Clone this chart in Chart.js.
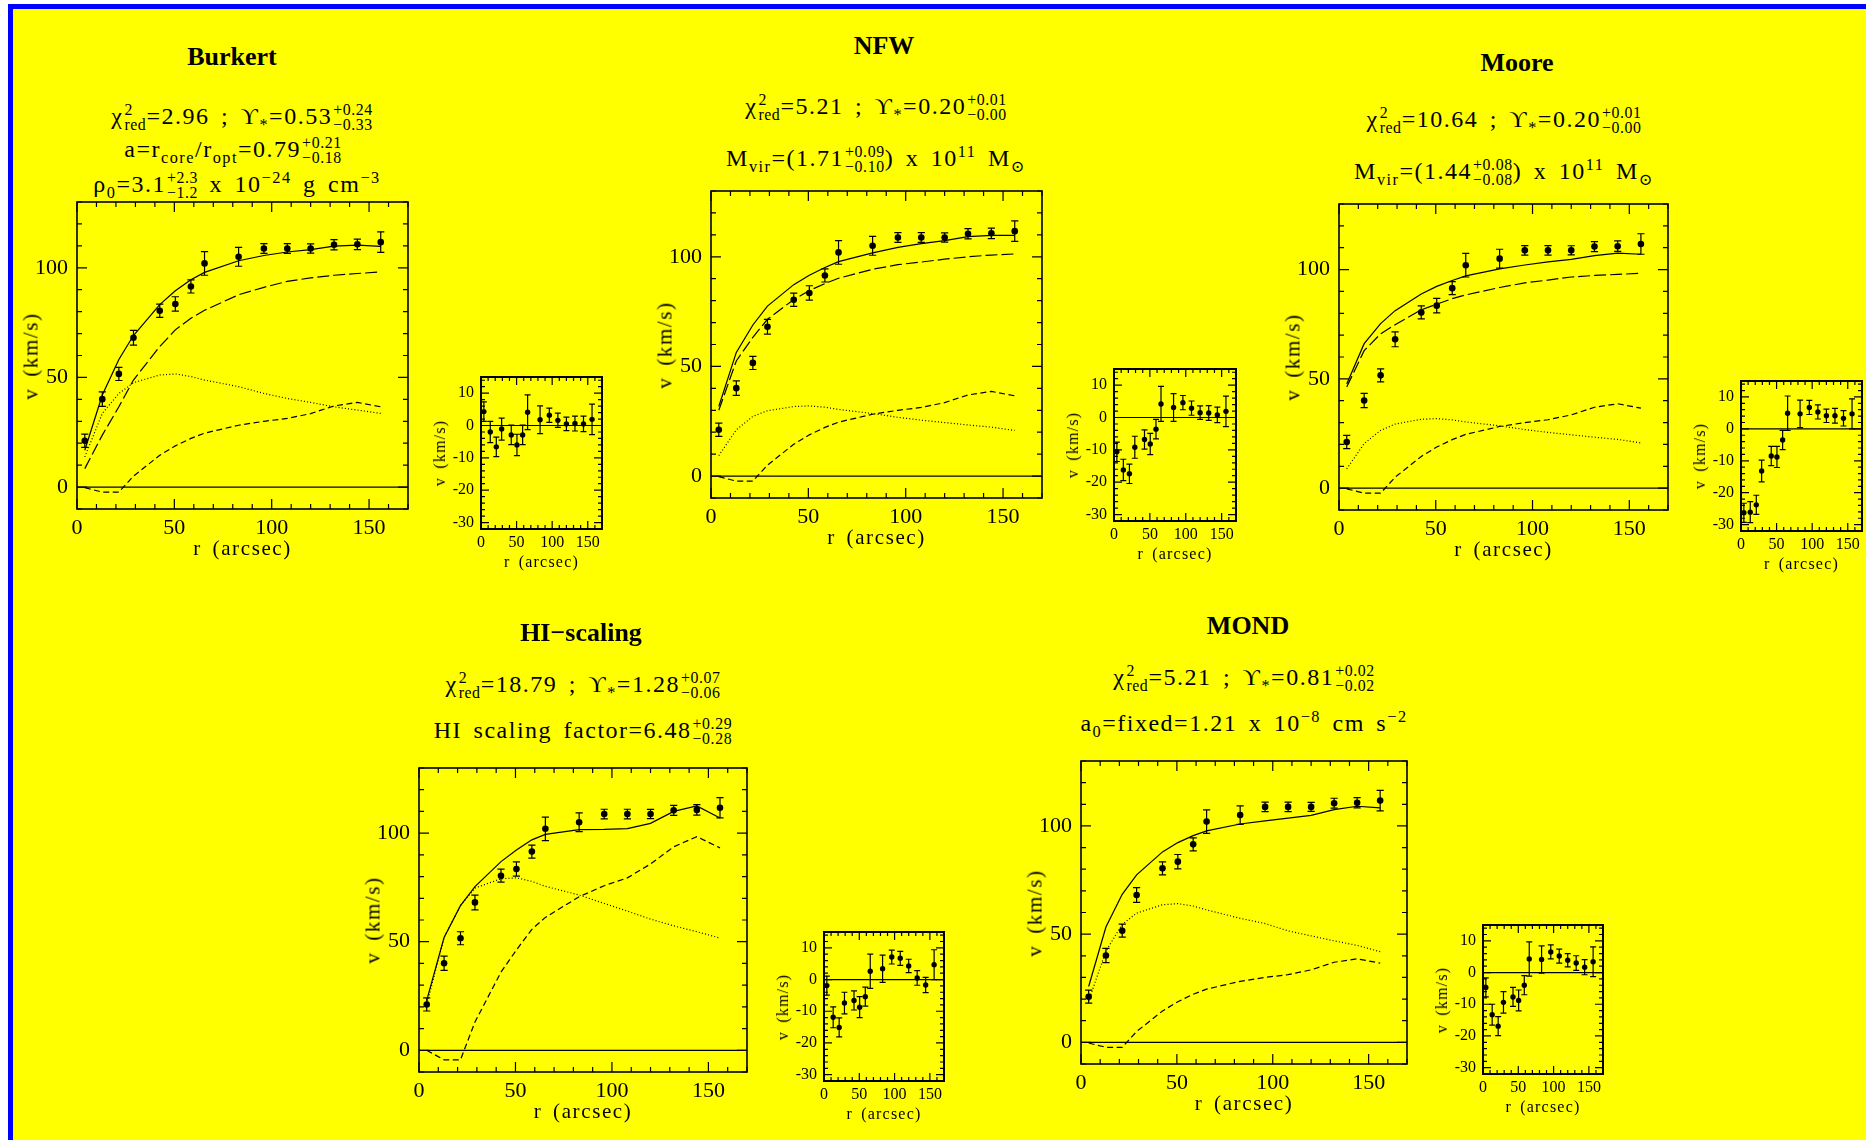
<!DOCTYPE html>
<html>
<head>
<meta charset="utf-8">
<title>Rotation curve fits</title>
<script src="https://cdn.jsdelivr.net/npm/chart.js@4.4.0/dist/chart.umd.min.js"></script>
<style>
  html, body { margin: 0; padding: 0; background: #fff; }
  #page { position: relative; width: 1866px; height: 1140px; overflow: hidden; background: #fff; }
  #frame { position: absolute; left: 8px; top: 4px; right: 0; bottom: 0; background: #0000ff; }
  #paper { position: absolute; left: 13px; top: 9px; right: 0; bottom: 0; background: #ffff00; }
  canvas { position: absolute; }
  .txt {
    position: absolute; white-space: nowrap; color: #000; line-height: 1;
    font-family: 'Liberation Serif', 'DejaVu Serif', serif;
    transform: translate(-50%, -50%);
  }
  .head { font-weight: bold; font-size: 26px; height: 26px; }
  .line { font-size: 24px; height: 24px; letter-spacing: 1.5px; word-spacing: 4px; }
  .st {
    display: inline-flex; flex-direction: column; align-items: flex-start;
    font-size: 0.66em; line-height: 0.92; vertical-align: 0.56em;
    margin-left: 1px; letter-spacing: 0.6px;
  }
  sub, sup { font-size: 0.68em; line-height: 0; }
  .axm { font-size: 21px; height: 21px; letter-spacing: 1.6px; word-spacing: 4px; }
  .axr { font-size: 16px; height: 16px; letter-spacing: 1.2px; word-spacing: 3px; }
  .rot { transform: translate(-50%, -50%) rotate(-90deg); }
</style>
</head>
<body>
<div id="page">
  <div id="frame"></div>
  <div id="paper"></div>
</div>
<script>
// ---------------------------------------------------------------
// Observed rotation curve: radius (arcsec), velocity and error (km/s)
// ---------------------------------------------------------------
const rObs = [4, 13, 21.5, 29, 42.5, 50.5, 58.5, 65.5, 83, 96, 108, 120, 132, 144, 156];
const vObs = [21.1, 40.1, 51.6, 68.1, 80.4, 83.5, 91.5, 102, 105, 108.8, 108.8, 108.8, 110.5, 110.7, 111.7];
const vErr = [3, 3.3, 3, 3.4, 3, 3.3, 3, 5.4, 4.3, 2.2, 2.2, 2.1, 2.3, 2.4, 4.7];

// Gas contribution (signed), shared by the fixed-gas models
const vGas = [-0.3, -2.3, -2.3, 5, 14.5, 18.8, 22.2, 24.6, 28.2, 30, 31.3, 33.5, 37, 38.6, 36.6];

// Burkert halo fit
const burkertTotal = [16.8, 42, 58.2, 69.1, 83.2, 89.5, 94.5, 97.9, 103.2, 105.6, 107.2, 108.3, 109.9, 110.3, 109.8];
const burkertHalo = [8.4, 23.7, 36.6, 48.8, 64.1, 71.7, 77, 80.6, 87.7, 91.1, 93.8, 95.4, 96.6, 97.4, 98.1];
const burkertDisk = [13.7, 33.6, 42.7, 47.6, 51.1, 51.6, 50.4, 48.8, 45.8, 42.7, 40.4, 38.6, 36.6, 35.1, 33.6];
const burkertRes = [4.3, -2.0, -6.6, -1.1, -2.9, -6.0, -2.9, 4.1, 1.8, 3.2, 1.6, 0.5, 0.6, 0.5, 1.9];

// NFW halo fit
const nfwTotal = [31.7, 56.4, 68.9, 77.5, 87.3, 91.6, 95.1, 97.8, 101.8, 104.3, 106, 107.4, 109.2, 109.8, 109.8];
const nfwHalo = [30, 52.5, 63.3, 71.5, 80.5, 84.6, 87.8, 90.2, 94.3, 96.4, 97.6, 98.9, 100, 100.8, 101.3];
const nfwDisk = [9.3, 21.1, 27.2, 29.8, 31.7, 32, 31.4, 30.4, 28.5, 26.8, 25.5, 24.4, 23.3, 22.3, 20.8];
const nfwRes = [-10.6, -16.2, -17.4, -9.2, -6.8, -8.2, -3.6, 4.2, 3.1, 4.6, 2.9, 1.5, 1.4, 0.8, 1.9];

// Moore halo fit
const mooreTotal = [47.6, 66.1, 75.3, 81.2, 88.8, 92.3, 95, 97.1, 100.3, 102.1, 103.5, 104.7, 106.4, 107.5, 107];
const mooreHalo = [46.3, 62.9, 70.6, 74.8, 81.6, 84.2, 86.7, 88.4, 91.8, 93.9, 95.2, 96.6, 97.3, 97.8, 98.3];
const mooreDisk = [8.8, 20.4, 26.4, 29.3, 31.5, 31.8, 31.2, 30.3, 28.5, 26.8, 25.5, 24.4, 23.3, 22.3, 20.7];
const mooreRes = [-26.3, -26.1, -23.8, -13.2, -8.5, -8.8, -3.5, 4.9, 4.7, 6.7, 5.3, 4.1, 4.1, 3.3, 4.7];

// HI-scaling fit (scaled gas, no halo)
const hiTotal = [23, 51.9, 66.6, 75.4, 86.9, 92.2, 96.9, 99.4, 101.6, 101.7, 102.1, 104.5, 110, 112.5, 107];
const hiDisk = [21, 52, 66.7, 74.7, 79, 79.4, 77.8, 75.5, 71.5, 67.6, 64.1, 60.4, 57.3, 54.6, 51.7];
const hiGas = [0, -4.4, -4.4, 13, 36, 46.2, 55.7, 61.2, 70.7, 75.8, 79.4, 85.8, 93.7, 98.4, 93.2];
const hiRes = [-1.9, -11.9, -15.1, -7.4, -6.6, -8.7, -5.4, 2.6, 3.4, 7.1, 6.7, 4.3, 0.5, -1.7, 4.7];

// MOND fit
const mondTotal = [25.8, 53.3, 68.4, 77.4, 88, 92.3, 95.5, 97.7, 100.9, 102.3, 103.6, 104.9, 107.5, 109.1, 108.3];
const mondDisk = [19.2, 42.2, 54.5, 59.7, 63.6, 64.1, 63, 61.2, 57.3, 54.9, 51.5, 49.2, 46.9, 44.8, 41.9];
const mondRes = [-4.7, -13.3, -16.9, -9.4, -7.7, -8.8, -4.0, 4.3, 4.1, 6.5, 5.2, 3.9, 3.0, 1.7, 3.4];

// Axis ranges and labelled ticks
const mainXRange = [0, 170];
const mainYRange = [-10, 130];
const resXRange = [0, 170];
const resYRange = [-32, 15];
const mainXTicks = [0, 50, 100, 150];
const mainYTicks = [0, 50, 100];
const resXTicks = [0, 50, 100, 150];
const resYTicks = [-30, -20, -10, 0, 10];

// ---------------------------------------------------------------
// Helpers
// ---------------------------------------------------------------
const FONT = "'Liberation Serif', 'DejaVu Serif', serif";
const DASH = { solid: [], long: [12, 4], short: [6, 3.5], dot: [1, 2.2] };

// stacked super/subscript pair
function st(sup, sub) {
  return '<span class="st"><span>' + sup + '</span><span>' + sub + '</span></span>';
}
const chi = (v) => '\u03c7' + st('2', 'red') + '=' + v + ' ; \u03d2<sub>*</sub>=';

// panel layout: plot boxes are [left, top, right, bottom] in page pixels
const panels = [
  {
    head: ['Burkert', 232, 57],
    lines: [
      [242, 115, chi('2.96') + '0.53' + st('+0.24', '\u22120.33')],
      [233, 148, 'a=r<sub>core</sub>/r<sub>opt</sub>=0.79' + st('+0.21', '\u22120.18')],
      [237, 183, '\u03c1<sub>0</sub>=3.1' + st('+2.3', '\u22121.2') + ' x 10<sup>\u221224</sup> g cm<sup>\u22123</sup>']
    ],
    main: [77, 202, 408, 509],
    res: [481, 377, 602, 529],
    curves: [[burkertTotal, 'solid'], [burkertHalo, 'long'], [burkertDisk, 'dot'], [vGas, 'short']],
    resid: burkertRes
  },
  {
    head: ['NFW', 884, 46],
    lines: [
      [876, 105, chi('5.21') + '0.20' + st('+0.01', '\u22120.00')],
      [876, 157, 'M<sub>vir</sub>=(1.71' + st('+0.09', '\u22120.10') + ') x 10<sup>11</sup> M<sub>\u2299</sub>']
    ],
    main: [711, 191, 1042, 498],
    res: [1114, 369, 1236, 521],
    curves: [[nfwTotal, 'solid'], [nfwHalo, 'long'], [nfwDisk, 'dot'], [vGas, 'short']],
    resid: nfwRes
  },
  {
    head: ['Moore', 1517, 63],
    lines: [
      [1504, 118, chi('10.64') + '0.20' + st('+0.01', '\u22120.00')],
      [1504, 170, 'M<sub>vir</sub>=(1.44' + st('+0.08', '\u22120.08') + ') x 10<sup>11</sup> M<sub>\u2299</sub>']
    ],
    main: [1339, 204, 1668, 510],
    res: [1741, 381, 1862, 531],
    curves: [[mooreTotal, 'solid'], [mooreHalo, 'long'], [mooreDisk, 'dot'], [vGas, 'short']],
    resid: mooreRes
  },
  {
    head: ['HI\u2212scaling', 581, 633],
    lines: [
      [583, 683, chi('18.79') + '1.28' + st('+0.07', '\u22120.06')],
      [583, 729, 'HI scaling factor=6.48' + st('+0.29', '\u22120.28')]
    ],
    main: [419, 768, 747, 1072],
    res: [824, 932, 944, 1081],
    curves: [[hiTotal, 'solid'], [hiDisk, 'dot'], [hiGas, 'short']],
    resid: hiRes
  },
  {
    head: ['MOND', 1248, 626],
    lines: [
      [1244, 676, chi('5.21') + '0.81' + st('+0.02', '\u22120.02')],
      [1244, 723, 'a<sub>0</sub>=fixed=1.21 x 10<sup>\u22128</sup> cm s<sup>\u22122</sup>']
    ],
    main: [1081, 761, 1407, 1064],
    res: [1483, 925, 1603, 1074],
    curves: [[mondTotal, 'solid'], [mondDisk, 'dot'], [vGas, 'short']],
    resid: mondRes
  }
];

// ---------------------------------------------------------------
// Plugins: inward ticks on all four sides + frame, and error bars
// ---------------------------------------------------------------
const frameTicks = {
  id: 'frameTicks',
  afterDatasetsDraw(chart, args, o) {
    const { ctx, chartArea: a, scales: { x, y } } = chart;
    ctx.save();
    ctx.strokeStyle = '#000';
    ctx.lineWidth = o.tickWidth;
    ctx.beginPath();
    for (let v = Math.ceil(x.min / o.xStep) * o.xStep; v <= x.max; v += o.xStep) {
      const px = x.getPixelForValue(v);
      const len = Math.abs(v % o.xMajor) < 1e-6 ? o.major : o.minor;
      ctx.moveTo(px, a.bottom); ctx.lineTo(px, a.bottom - len);
      ctx.moveTo(px, a.top); ctx.lineTo(px, a.top + len);
    }
    for (let v = Math.ceil(y.min / o.yStep) * o.yStep; v <= y.max; v += o.yStep) {
      const py = y.getPixelForValue(v);
      const len = Math.abs(v % o.yMajor) < 1e-6 ? o.major : o.minor;
      ctx.moveTo(a.left, py); ctx.lineTo(a.left + len, py);
      ctx.moveTo(a.right, py); ctx.lineTo(a.right - len, py);
    }
    ctx.stroke();
    ctx.lineWidth = o.boxWidth;
    ctx.strokeRect(a.left, a.top, a.right - a.left, a.bottom - a.top);
    ctx.restore();
  }
};

const errorBars = {
  id: 'errorBars',
  afterDatasetsDraw(chart) {
    const { ctx, chartArea: a, scales: { x, y } } = chart;
    ctx.save();
    ctx.beginPath();
    ctx.rect(a.left, a.top, a.right - a.left, a.bottom - a.top);
    ctx.clip();
    ctx.strokeStyle = '#000';
    chart.data.datasets.forEach(ds => {
      if (!ds.errors) return;
      ctx.lineWidth = ds.errWidth;
      ctx.beginPath();
      ds.data.forEach((p, j) => {
        const px = x.getPixelForValue(p.x);
        const hi = y.getPixelForValue(p.y + ds.errors[j]);
        const lo = y.getPixelForValue(p.y - ds.errors[j]);
        ctx.moveTo(px, hi); ctx.lineTo(px, lo);
        ctx.moveTo(px - ds.cap, hi); ctx.lineTo(px + ds.cap, hi);
        ctx.moveTo(px - ds.cap, lo); ctx.lineTo(px + ds.cap, lo);
      });
      ctx.stroke();
    });
    ctx.restore();
  }
};

// ---------------------------------------------------------------
// Builders
// ---------------------------------------------------------------
const page = document.getElementById('page');

function addText(x, y, html, cls) {
  const d = document.createElement('div');
  d.className = 'txt ' + cls;
  d.style.left = x + 'px';
  d.style.top = y + 'px';
  d.innerHTML = html;
  page.appendChild(d);
}

function curve(values, style) {
  return {
    data: rObs.map((r, i) => ({ x: r, y: values[i] })),
    borderColor: '#000', borderWidth: 1.2, borderDash: DASH[style],
    pointRadius: 0, tension: 0, fill: false
  };
}

function makePlot(box, s) {
  const [L, T, R, B] = box;
  const canvas = document.createElement('canvas');
  canvas.width = (R - L) + s.padL + s.padR;
  canvas.height = (B - T) + s.padT + s.padB;
  canvas.style.left = (L - s.padL) + 'px';
  canvas.style.top = (T - s.padT) + 'px';
  page.appendChild(canvas);

  const fixTicks = (list) => (sc) => { sc.ticks = list.map(v => ({ value: v })); };
  const datasets = s.lines.map(([vals, style]) => curve(vals, style));
  // zero reference line across the full axis
  datasets.push({
    data: [{ x: s.xr[0], y: 0 }, { x: s.xr[1], y: 0 }],
    borderColor: '#000', borderWidth: 1.2, pointRadius: 0
  });
  datasets.push({
    data: rObs.map((r, i) => ({ x: r, y: s.points[i] })),
    errors: vErr, cap: s.cap, errWidth: 1.2,
    showLine: false, pointRadius: s.dot, pointBackgroundColor: '#000',
    pointBorderWidth: 0, borderColor: '#000'
  });

  const noGrid = { display: false, drawTicks: false };
  new Chart(canvas.getContext('2d'), {
    type: 'line',
    data: { datasets },
    options: {
      responsive: false,
      animation: false,
      devicePixelRatio: 1,
      layout: { padding: { top: s.padT, right: s.padR, left: 0, bottom: 0 } },
      plugins: {
        legend: { display: false },
        tooltip: { enabled: false },
        frameTicks: s.ticks
      },
      scales: {
        x: {
          type: 'linear', min: s.xr[0], max: s.xr[1],
          grid: noGrid, border: { display: false },
          ticks: { color: '#000', font: { family: FONT, size: s.font }, padding: s.xPad, maxRotation: 0, autoSkip: false },
          afterBuildTicks: fixTicks(s.xTicks),
          afterFit: (sc) => { sc.height = s.padB; sc.paddingLeft = 0; sc.paddingRight = 0; }
        },
        y: {
          type: 'linear', min: s.yr[0], max: s.yr[1],
          grid: noGrid, border: { display: false },
          ticks: { color: '#000', font: { family: FONT, size: s.font }, padding: s.yPad, autoSkip: false },
          afterBuildTicks: fixTicks(s.yTicks),
          afterFit: (sc) => { sc.width = s.padL; sc.paddingTop = 0; sc.paddingBottom = 0; }
        }
      }
    },
    plugins: [frameTicks, errorBars]
  });
}

panels.forEach(p => {
  addText(p.head[1], p.head[2], p.head[0], 'head');
  p.lines.forEach(([x, y, html]) => addText(x, y, html, 'line'));

  // main rotation-curve plot
  makePlot(p.main, {
    padL: 60, padT: 6, padR: 6, padB: 34, font: 22, xPad: 6, yPad: 9,
    xr: mainXRange, yr: mainYRange, xTicks: mainXTicks, yTicks: mainYTicks,
    lines: p.curves, points: vObs, dot: 3.3, cap: 3.6,
    ticks: { xStep: 10, xMajor: 50, yStep: 10, yMajor: 50, major: 10, minor: 5, tickWidth: 1.2, boxWidth: 1.6 }
  });
  const [mL, mT, mR, mB] = p.main;
  addText((mL + mR) / 2, mB + 39, 'r (arcsec)', 'axm');
  addText(mL - 46, (mT + mB) / 2, 'v (km/s)', 'axm rot');

  // residuals (observed minus model)
  makePlot(p.res, {
    padL: 40, padT: 6, padR: 4, padB: 26, font: 16, xPad: 4, yPad: 7,
    xr: resXRange, yr: resYRange, xTicks: resXTicks, yTicks: resYTicks,
    lines: [], points: p.resid, dot: 2.7, cap: 3,
    ticks: { xStep: 10, xMajor: 50, yStep: 2, yMajor: 10, major: 8, minor: 4, tickWidth: 1.2, boxWidth: 2 }
  });
  const [rL, rT, rR, rB] = p.res;
  addText((rL + rR) / 2, rB + 33, 'r (arcsec)', 'axr');
  addText(rL - 41, (rT + rB) / 2, 'v (km/s)', 'axr rot');
});
</script>
</body>
</html>
